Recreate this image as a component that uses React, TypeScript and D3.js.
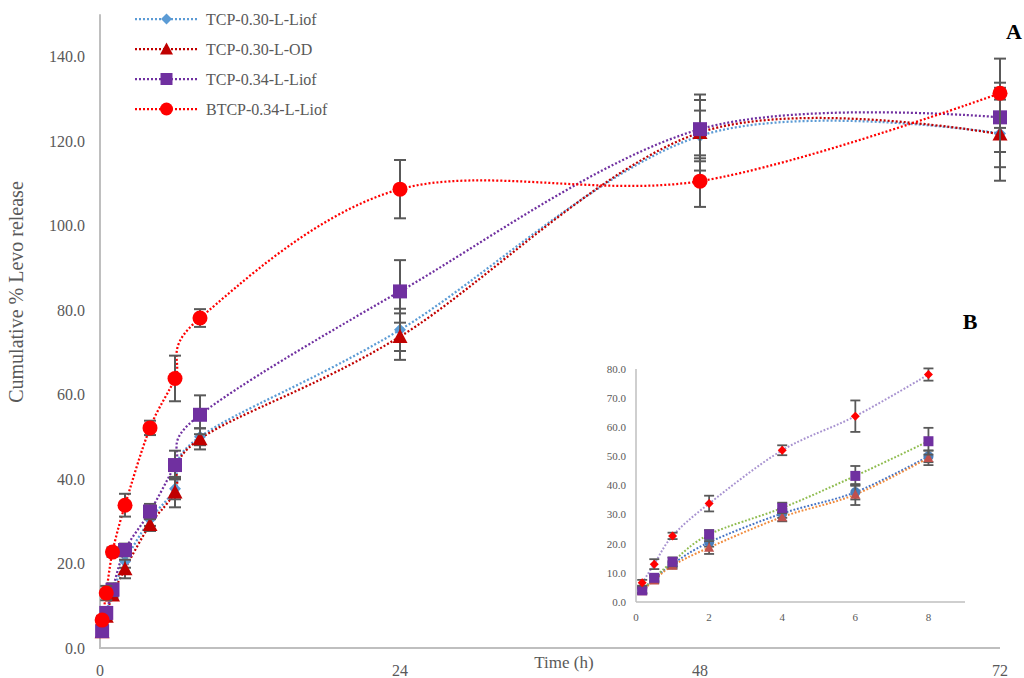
import React from 'react';
import * as d3 from 'd3';

// ---------- data ----------
const times = [0.17, 0.5, 1, 2, 4, 6, 8, 24, 48, 72];
const seriesNames = ['TCP-0.30-L-Liof', 'TCP-0.30-L-OD', 'TCP-0.34-L-Liof', 'BTCP-0.34-L-Liof'];
const tcp030Liof = [4.2, 8.0, 13.0, 20.5, 30.4, 37.7, 50.0, 75.3, 121.2, 121.8];
const tcp030LiofErr = [1.0, 1.0, 1.0, 1.5, 1.5, 2.5, 2.0, 5.0, 6.0, 8.0];
const tcp030OD = [3.8, 7.5, 12.5, 18.7, 29.2, 36.9, 49.5, 73.7, 122.0, 121.6];
const tcp030ODErr = [1.0, 1.0, 1.0, 2.2, 1.5, 3.6, 2.5, 5.5, 9.0, 11.0];
const tcp034Liof = [4.0, 8.3, 13.8, 23.2, 32.3, 43.3, 55.2, 84.4, 122.8, 125.6];
const tcp034LiofErr = [1.0, 1.0, 1.5, 1.5, 1.8, 3.4, 4.6, 7.4, 6.9, 8.2];
const btcp034Liof = [6.6, 13.0, 22.7, 33.8, 52.1, 63.8, 78.1, 108.6, 110.5, 131.3];
const btcp034LiofErr = [1.0, 1.7, 1.1, 2.7, 1.7, 5.4, 2.1, 6.9, 6.1, 8.2];

const mainYTicks = [0, 20, 40, 60, 80, 100, 120, 140];
const mainXTicks = [0, 24, 48, 72];
const insetYTicks = [0, 10, 20, 30, 40, 50, 60, 70, 80];
const insetXTicks = [0, 2, 4, 6, 8];
const insetMaxTime = 8;

const seriesValues = [tcp030Liof, tcp030OD, tcp034Liof, btcp034Liof];
const seriesErrors = [tcp030LiofErr, tcp030ODErr, tcp034LiofErr, btcp034LiofErr];

// ---------- styles ----------
type MarkerType = 'diamond' | 'triangle' | 'square' | 'circle';
const mainStyles: { color: string; marker: MarkerType }[] = [
  { color: '#5b9bd5', marker: 'diamond' },
  { color: '#c00000', marker: 'triangle' },
  { color: '#7030a0', marker: 'square' },
  { color: '#ff0000', marker: 'circle' },
];
const insetStyles: { line: string; fill: string; marker: MarkerType }[] = [
  { line: '#4472c4', fill: '#4a7ebb', marker: 'circle' },
  { line: '#f08a3c', fill: '#c0504d', marker: 'triangle' },
  { line: '#8fbc4f', fill: '#7030a0', marker: 'square' },
  { line: '#a893d0', fill: '#ff0000', marker: 'diamond' },
];

const FONT = '"Liberation Serif", "Times New Roman", serif';
const TEXT = '#595959';
const AXIS = '#bfbfbf';
const ERR = '#595959';

function markerPath(type: MarkerType, s: number): string {
  const h = s / 2;
  switch (type) {
    case 'square':
      return `M${-h},${-h}h${s}v${s}h${-s}Z`;
    case 'diamond':
      return `M0,${-h}L${h},0L0,${h}L${-h},0Z`;
    case 'triangle':
      return `M0,${-h}L${h},${h * 0.85}L${-h},${h * 0.85}Z`;
    case 'circle':
    default:
      return d3.symbol().type(d3.symbolCircle).size(Math.PI * h * h)() as string;
  }
}

const mainX = d3.scaleLinear().domain([0, 72]).range([100, 1000]);
const mainY = d3.scaleLinear().domain([0, 150]).range([648, 14.25]);
const insetX = d3.scaleLinear().domain([0, 9]).range([636, 965]);
const insetY = d3.scaleLinear().domain([0, 80]).range([602, 369]);

const mainMarkerSize: Record<MarkerType, number> = { diamond: 12, triangle: 15, square: 14, circle: 15 };
const legendMarkerSize: Record<MarkerType, number> = { diamond: 11, triangle: 13, square: 12, circle: 13 };
const insetMarkerSize: Record<MarkerType, number> = { diamond: 9, triangle: 10, square: 10, circle: 10 };

export default function App() {
  const mainLine = (vals: number[]) =>
    d3
      .line<number>()
      .x((_, i) => mainX(times[i]))
      .y((v) => mainY(v))
      .curve(d3.curveCardinal.tension(0))(vals) as string;

  const insetIdx = times.map((t, i) => i).filter((i) => times[i] <= insetMaxTime);
  const insetLine = (vals: number[]) =>
    d3
      .line<number>()
      .x((i) => insetX(times[i]))
      .y((i) => insetY(vals[i]))
      .curve(d3.curveCardinal.tension(0))(insetIdx) as string;

  const legendY = [19, 49, 79, 109];

  return (
    <svg
      width={1024}
      height={678}
      style={{ position: 'absolute', left: 0, top: 0, background: '#fff' }}
      fontFamily={FONT}
    >
      <rect x={0} y={0} width={1024} height={678} fill="#fff" />

      {/* main axes */}
      <line x1={mainX(0)} x2={mainX(0)} y1={mainY(150)} y2={mainY(0)} stroke={AXIS} strokeWidth={2} />
      <line x1={mainX(0) - 1} x2={mainX(72)} y1={mainY(0)} y2={mainY(0)} stroke={AXIS} strokeWidth={2} />
      {mainYTicks.map((t) => (
        <text key={'my' + t} x={85} y={mainY(t)} dy="0.35em" textAnchor="end" fontSize={16} fill={TEXT}>
          {t.toFixed(1)}
        </text>
      ))}
      {mainXTicks.map((t) => (
        <text key={'mx' + t} x={mainX(t)} y={676} textAnchor="middle" fontSize={16} fill={TEXT}>
          {t}
        </text>
      ))}
      <text x={564} y={668} textAnchor="middle" fontSize={17} fill={TEXT}>
        Time (h)
      </text>
      <text
        transform={`translate(23,292) rotate(-90)`}
        textAnchor="middle"
        fontSize={20}
        fill={TEXT}
      >
        Cumulative % Levo release
      </text>

      {/* main series */}
      {seriesValues.map((vals, si) => (
        <path
          key={'ml' + si}
          d={mainLine(vals)}
          fill="none"
          stroke={mainStyles[si].color}
          strokeWidth={2.25}
          strokeDasharray="2 2"
        />
      ))}
      {seriesValues.map((vals, si) => (
        <g key={'mg' + si}>
          {vals.map((v, i) => {
            const e = seriesErrors[si][i];
            const x = mainX(times[i]);
            return (
              <g key={i} stroke={ERR} strokeWidth={2}>
                <line x1={x} x2={x} y1={mainY(v - e)} y2={mainY(v + e)} />
                <line x1={x - 6} x2={x + 6} y1={mainY(v - e)} y2={mainY(v - e)} />
                <line x1={x - 6} x2={x + 6} y1={mainY(v + e)} y2={mainY(v + e)} />
              </g>
            );
          })}
          {vals.map((v, i) => (
            <path
              key={'m' + i}
              d={markerPath(mainStyles[si].marker, mainMarkerSize[mainStyles[si].marker])}
              transform={`translate(${mainX(times[i])},${mainY(v)})`}
              fill={mainStyles[si].color}
            />
          ))}
        </g>
      ))}

      {/* legend */}
      {seriesNames.map((name, si) => (
        <g key={'lg' + si} transform={`translate(0,${legendY[si]})`}>
          <line x1={135} x2={198} y1={0} y2={0} stroke={mainStyles[si].color} strokeWidth={2.25} strokeDasharray="2 2" />
          <path
            d={markerPath(mainStyles[si].marker, legendMarkerSize[mainStyles[si].marker])}
            transform="translate(166.5,0)"
            fill={mainStyles[si].color}
          />
          <text x={206} y={0} dy="0.35em" fontSize={16} fill={TEXT}>
            {name}
          </text>
        </g>
      ))}

      {/* panel labels */}
      <text x={1014} y={39} textAnchor="middle" fontSize={22} fontWeight="bold" fill="#000">
        A
      </text>
      <text x={970} y={329} textAnchor="middle" fontSize={22} fontWeight="bold" fill="#000">
        B
      </text>

      {/* inset */}
      <g>
        <line x1={insetX(0)} x2={insetX(0)} y1={insetY(80)} y2={insetY(0)} stroke={AXIS} strokeWidth={1.5} />
        <line x1={insetX(0)} x2={insetX(9)} y1={insetY(0)} y2={insetY(0)} stroke={AXIS} strokeWidth={1.5} />
        {insetYTicks.map((t) => (
          <text key={'iy' + t} x={626} y={insetY(t)} dy="0.35em" textAnchor="end" fontSize={11} fill={TEXT}>
            {t.toFixed(1)}
          </text>
        ))}
        {insetXTicks.map((t) => (
          <text key={'ix' + t} x={insetX(t)} y={621} textAnchor="middle" fontSize={11} fill={TEXT}>
            {t}
          </text>
        ))}
        {seriesValues.map((vals, si) => (
          <path
            key={'il' + si}
            d={insetLine(vals)}
            fill="none"
            stroke={insetStyles[si].line}
            strokeWidth={2}
            strokeDasharray="1.8 1.8"
          />
        ))}
        {seriesValues.map((vals, si) => (
          <g key={'ig' + si}>
            {insetIdx.map((i) => {
              const v = vals[i];
              const e = seriesErrors[si][i];
              const x = insetX(times[i]);
              return (
                <g key={i} stroke={ERR} strokeWidth={1.8}>
                  <line x1={x} x2={x} y1={insetY(v - e)} y2={insetY(v + e)} />
                  <line x1={x - 5} x2={x + 5} y1={insetY(v - e)} y2={insetY(v - e)} />
                  <line x1={x - 5} x2={x + 5} y1={insetY(v + e)} y2={insetY(v + e)} />
                </g>
              );
            })}
            {insetIdx.map((i) => (
              <path
                key={'im' + i}
                d={markerPath(insetStyles[si].marker, insetMarkerSize[insetStyles[si].marker])}
                transform={`translate(${insetX(times[i])},${insetY(vals[i])})`}
                fill={insetStyles[si].fill}
              />
            ))}
          </g>
        ))}
      </g>
    </svg>
  );
}
